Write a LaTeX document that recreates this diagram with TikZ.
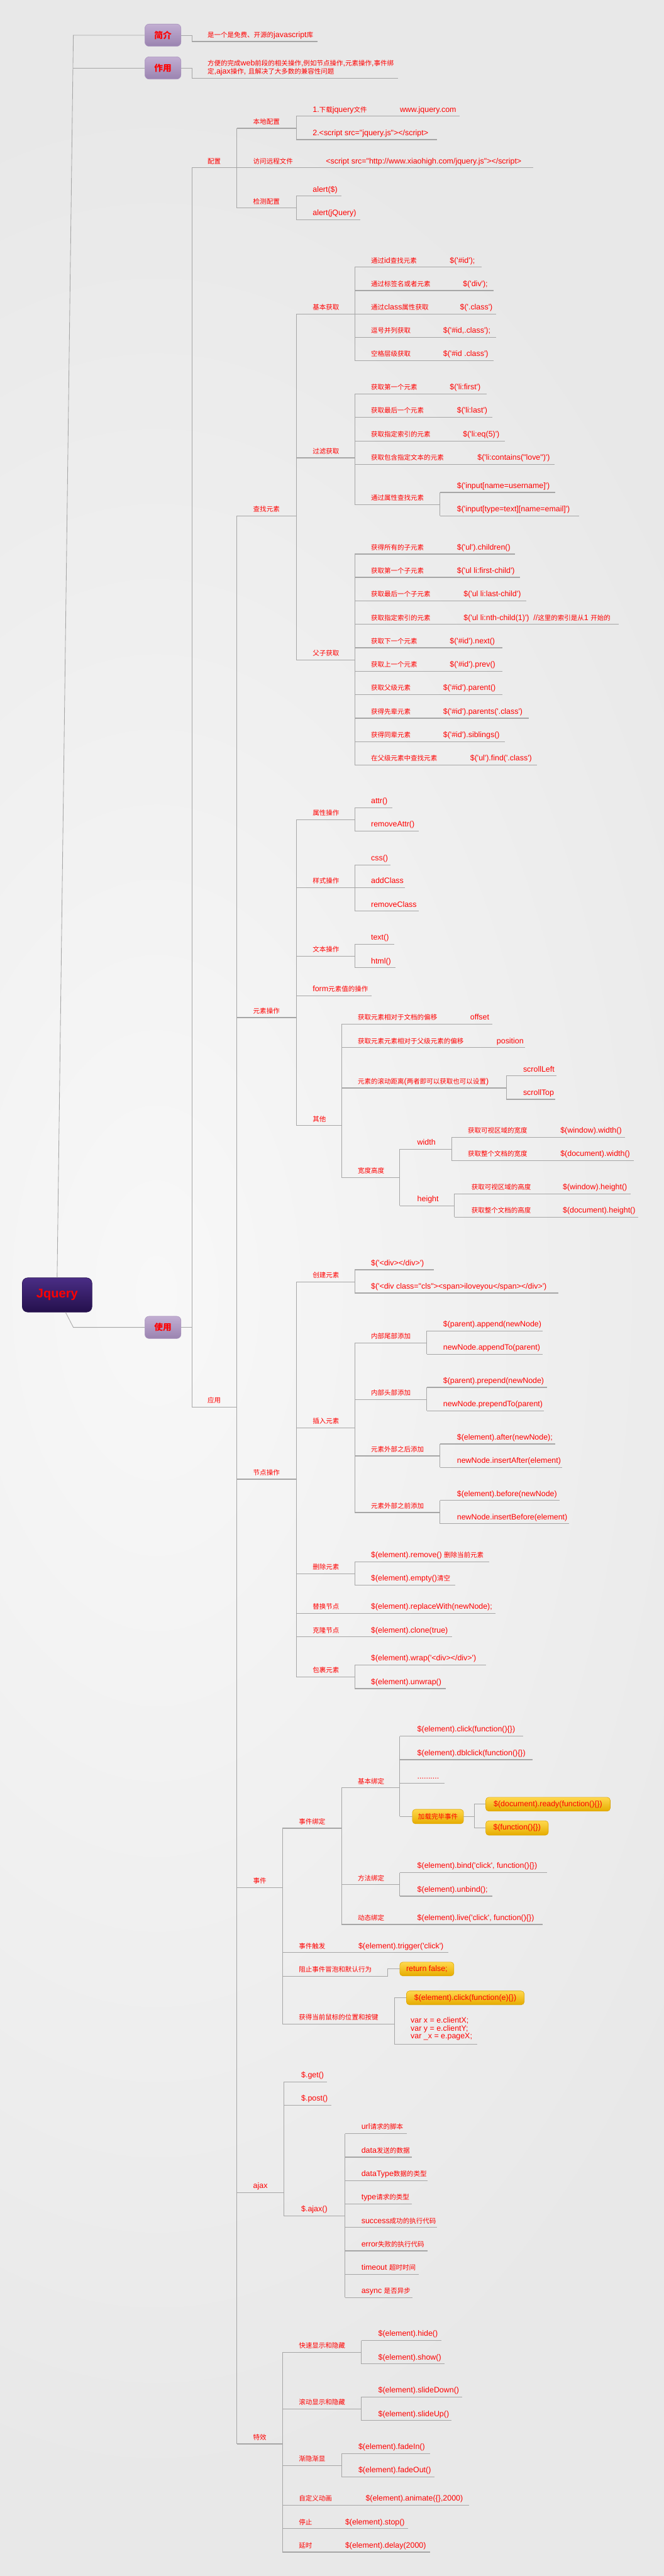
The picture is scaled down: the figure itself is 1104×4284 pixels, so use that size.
\documentclass[tikz,border=0pt]{standalone}
\usepackage{fontspec}
\setmainfont{Liberation Sans}[Ligatures=TeXOff]
\newfontfamily\cjk{Noto Sans CJK SC}[Scale=0.846]
\usetikzlibrary{calc}
% automatic switch to the CJK font for Chinese characters
\newXeTeXintercharclass\CJKcls
\newcount\cjkc
\cjkc="4E00
\loop\XeTeXcharclass\cjkc=\CJKcls\relax\ifnum\cjkc<"9FFF\relax\advance\cjkc by 1\relax\repeat
\cjkc="3000
\loop\XeTeXcharclass\cjkc=\CJKcls\relax\ifnum\cjkc<"303F\relax\advance\cjkc by 1\relax\repeat
\cjkc="FF00
\loop\XeTeXcharclass\cjkc=\CJKcls\relax\ifnum\cjkc<"FFEF\relax\advance\cjkc by 1\relax\repeat
\XeTeXinterchartoks 0 \CJKcls = {\begingroup\cjk}
\XeTeXinterchartoks 4095 \CJKcls = {\begingroup\cjk}
\XeTeXinterchartoks \CJKcls 0 = {\endgroup}
\XeTeXinterchartoks \CJKcls 4095 = {\endgroup}
\XeTeXinterchartokenstate=1
\definecolor{bgc}{HTML}{E8E8E8}
\definecolor{bgl}{HTML}{F8F8F8}
\definecolor{linec}{HTML}{A6A6A6}
\definecolor{tred}{HTML}{FF0000}
\definecolor{pbt}{HTML}{C2AED2}
\definecolor{pbb}{HTML}{9A83B0}
\definecolor{pbd}{HTML}{A893BC}
\definecolor{rbt}{HTML}{4A2D85}
\definecolor{rbb}{HTML}{24104C}
\definecolor{ybt}{HTML}{FFD84D}
\definecolor{ybb}{HTML}{E6AC00}
\definecolor{ybd}{HTML}{D9A200}
\newcommand\mn[6]{%
  \coordinate (#1-l) at (#2,#4);
  \coordinate (#1-r) at (#3,#4);
  \node[lbl] (#1) at (#5,#4-7) {#6};
  \draw[ul] (#1-l) -- (#1-r);
}
\begin{document}
\begin{tikzpicture}[x=1pt,y=-1pt,
  lbl/.style={anchor=base west, inner sep=0pt, text=tred, font=\fontsize{13}{15}\selectfont},
  ul/.style={draw=linec, line width=1.3pt},
  vl/.style={draw=linec, line width=0.9pt},
  pbox/.style={rounded corners=7pt, minimum width=60pt, minimum height=37pt, top color=pbt, bottom color=pbb, draw=pbd, line width=0.6pt, text=tred, font=\fontsize{17}{20}\selectfont\bfseries, inner sep=0pt},
  rbox/.style={rounded corners=9pt, minimum width=116pt, minimum height=57pt, top color=rbt, bottom color=rbb, draw=rbb, line width=0.6pt, text=tred, font=\fontsize{21}{24}\selectfont\bfseries, inner sep=0pt},
  ybox/.style={rounded corners=5pt, top color=ybt, bottom color=ybb, draw=ybd, line width=0.6pt, text=tred, font=\fontsize{13}{15}\selectfont, inner sep=0pt, minimum height=23pt}
]
\useasboundingbox (0,0) rectangle (1104,4284);
\fill[bgc] (0,0) rectangle (1104,4284);
\begin{scope}
\clip (0,0) rectangle (1104,4284);
\shade[inner color=bgl, outer color=bgc] (260,2150) ellipse [x radius=1100pt, y radius=2000pt];
\end{scope}

% ---------- root and main boxes ----------
\node[rbox] (root) at (95,2153.5) {Jquery};
\node[pbox] (jj) at (271,58.5) {简介};
\node[pbox] (zy) at (271,113) {作用};
\node[pbox] (sy) at (271,2207.5) {使用};
\coordinate (t1) at (122,58.5);
\coordinate (t2) at (121.5,113);
\coordinate (t3) at (122,2207.5);
\draw[vl] (root.north) -- (t1) -- (jj.west);
\draw[vl] (t2) -- (zy.west);
\draw[vl] ([xshift=14pt]root.south) -- (t3) -- (sy.west);

% ---------- 简介 / 作用 ----------
\mn{d1}{319}{528}{69}{345}{是一个是免费、开源的javascript库}
\draw[vl] (jj.east) -| (d1-l);
\coordinate (d2-l) at (319,130.3);
\coordinate (d2-r) at (662,130.3);
\node[lbl, anchor=west, align=left, font=\fontsize{13}{13.3}\selectfont] (d2) at (345,112.7) {方便的完成web前段的相关操作,例如节点操作,元素操作,事件绑\\定,ajax操作, 且解决了大多数的兼容性问题};
\draw[ul] (d2-l) -- (d2-r);
\draw[vl] (zy.east) -| (d2-l);

% ---------- 使用 ----------
\mn{pz}{319}{394}{279}{345}{配置}
\mn{yy}{319}{394}{2340}{345}{应用}
\draw[vl] (pz-l) -- (yy-l);
\draw[ul] (sy.east) -- (sy.east -| pz-l);

% 配置
\mn{bd}{394}{493}{213.3}{421}{本地配置}
\mn{yc}{394}{493}{279}{421}{访问远程文件}
\mn{jc}{394}{493}{346}{421}{检测配置}
\draw[vl] (bd-l) -- (jc-l);
\mn{bd1}{493}{638}{193.3}{520}{1.下载jquery文件}
\mn{bd1v}{638}{765}{193.3}{665}{www.jquery.com}
\mn{bd2}{493}{727}{232.3}{520}{2.<script src="jquery.js"></script>}
\draw[vl] (bd1-l) -- (bd2-l);
\mn{yc1}{493}{887}{279}{542}{<script src="http://www.xiaohigh.com/jquery.js"></script>}
\mn{jc1}{493}{568}{326}{520}{alert(\$)}
\mn{jc2}{493}{599}{365.3}{520}{alert(jQuery)}
\draw[vl] (jc1-l) -- (jc2-l);

% 应用
\mn{cz}{394}{493}{858}{421}{查找元素}
\mn{ys}{394}{493}{1692.3}{421}{元素操作}
\mn{jd}{394}{493}{2460}{421}{节点操作}
\mn{sj}{394}{470}{3139}{421}{事件}
\mn{aj}{394}{472}{3646.3}{421}{ajax}
\mn{tx}{394}{470}{4064.3}{421}{特效}
\draw[vl] (cz-l) -- (tx-l);

% 查找元素
\mn{jb}{493}{590}{522.3}{520}{基本获取}
\mn{gl}{493}{590}{761.3}{520}{过滤获取}
\mn{fz}{493}{590}{1097.3}{520}{父子获取}
\draw[vl] (jb-l) -- (fz-l);
\mn{jb1}{590}{721}{444.3}{617}{通过id查找元素}
\mn{jb1v}{721}{801}{444.3}{748}{\$('\#id');}
\mn{jb2}{590}{743}{483.3}{617}{通过标签名或者元素}
\mn{jb2v}{743}{821}{483.3}{770}{\$('div');}
\mn{jb3}{590}{738}{522.3}{617}{通过class属性获取}
\mn{jb3v}{738}{825}{522.3}{765}{\$('.class')}
\mn{jb4}{590}{710}{561.3}{617}{逗号并列获取}
\mn{jb4v}{710}{825}{561.3}{737}{\$('\#id,.class');}
\mn{jb5}{590}{710}{600}{617}{空格层级获取}
\mn{jb5v}{710}{821}{600}{737}{\$('\#id .class')}
\draw[vl] (jb1-l) -- (jb5-l);
\mn{gl1}{590}{721}{655.3}{617}{获取第一个元素}
\mn{gl1v}{721}{810}{655.3}{748}{\$('li:first')}
\mn{gl2}{590}{733}{694}{617}{获取最后一个元素}
\mn{gl2v}{733}{819}{694}{760}{\$('li:last')}
\mn{gl3}{590}{743}{733.3}{617}{获取指定索引的元素}
\mn{gl3v}{743}{840}{733.3}{770}{\$('li:eq(5)')}
\mn{gl4}{590}{767}{772}{617}{获取包含指定文本的元素}
\mn{gl4v}{767}{922}{772}{794}{\$('li:contains("love")')}
\mn{gl5}{590}{732}{839}{617}{通过属性查找元素}
\draw[vl] (gl1-l) -- (gl5-l);
\mn{gl51}{732}{924}{819}{760}{\$('input[name=username]')}
\mn{gl52}{732}{963}{858}{760}{\$('input[type=text][name=email]')}
\draw[vl] (gl51-l) -- (gl52-l);
\mn{fz1}{590}{733}{921.3}{617}{获得所有的子元素}
\mn{fz1v}{733}{857}{921.3}{760}{\$('ul').children()}
\mn{fz2}{590}{733}{960}{617}{获取第一个子元素}
\mn{fz2v}{733}{865}{960}{760}{\$('ul li:first-child')}
\mn{fz3}{590}{744}{999.3}{617}{获取最后一个子元素}
\mn{fz3v}{744}{875}{999.3}{771}{\$('ul li:last-child')}
\mn{fz4}{590}{744}{1038.3}{617}{获取指定索引的元素}
\mn{fz4v}{744}{1029}{1038.3}{771}{\$('ul li:nth-child(1)')\ \ //这里的索引是从1 开始的}
\mn{fz5}{590}{721}{1077.3}{617}{获取下一个元素}
\mn{fz5v}{721}{836}{1077.3}{748}{\$('\#id').next()}
\mn{fz6}{590}{721}{1116.3}{617}{获取上一个元素}
\mn{fz6v}{721}{836}{1116.3}{748}{\$('\#id').prev()}
\mn{fz7}{590}{710}{1155.3}{617}{获取父级元素}
\mn{fz7v}{710}{836}{1155.3}{737}{\$('\#id').parent()}
\mn{fz8}{590}{710}{1194.3}{617}{获得先辈元素}
\mn{fz8v}{710}{880}{1194.3}{737}{\$('\#id').parents('.class')}
\mn{fz9}{590}{710}{1233.3}{617}{获得同辈元素}
\mn{fz9v}{710}{840}{1233.3}{737}{\$('\#id').siblings()}
\mn{fz10}{590}{755}{1272.3}{617}{在父级元素中查找元素}
\mn{fz10v}{755}{893}{1272.3}{782}{\$('ul').find('.class')}
\draw[vl] (fz1-l) -- (fz10-l);

% 元素操作
\mn{sx}{493}{590}{1363.3}{520}{属性操作}
\mn{ysc}{493}{590}{1476}{520}{样式操作}
\mn{wb}{493}{590}{1590.3}{520}{文本操作}
\mn{fm}{493}{618}{1656.3}{520}{form元素值的操作}
\mn{qt}{493}{568}{1872}{520}{其他}
\draw[vl] (sx-l) -- (qt-l);
\mn{sx1}{590}{653}{1343.3}{617}{attr()}
\mn{sx2}{590}{697}{1382.3}{617}{removeAttr()}
\draw[vl] (sx1-l) -- (sx2-l);
\mn{ysc1}{590}{649}{1438.3}{617}{css()}
\mn{ysc2}{590}{674}{1476}{617}{addClass}
\mn{ysc3}{590}{697}{1515.3}{617}{removeClass}
\draw[vl] (ysc1-l) -- (ysc3-l);
\mn{wb1}{590}{656}{1570.3}{617}{text()}
\mn{wb2}{590}{658}{1609.3}{617}{html()}
\draw[vl] (wb1-l) -- (wb2-l);
\mn{qt1}{568}{755}{1703.3}{595}{获取元素相对于文档的偏移}
\mn{qt1v}{755}{819}{1703.3}{782}{offset}
\mn{qt2}{568}{799}{1742.3}{595}{获取元素元素相对于父级元素的偏移}
\mn{qt2v}{799}{873}{1742.3}{826}{position}
\mn{qt3}{568}{842}{1809.3}{595}{元素的滚动距离(两者即可以获取也可以设置)}
\mn{kg}{568}{665}{1958.3}{595}{宽度高度}
\draw[vl] (qt1-l) -- (kg-l);
\mn{qt31}{842}{926}{1789.3}{870}{scrollLeft}
\mn{qt32}{842}{924}{1828.3}{870}{scrollTop}
\draw[vl] (qt31-l) -- (qt32-l);
\mn{kw}{665}{751}{1911.3}{694}{width}
\mn{kh}{665}{756}{2005.3}{694}{height}
\draw[vl] (kw-l) -- (kh-l);
\mn{kw1}{751}{905}{1891.3}{778}{获取可视区域的宽度}
\mn{kw1v}{905}{1040}{1891.3}{932}{\$(window).width()}
\mn{kw2}{751}{905}{1930.3}{778}{获取整个文档的宽度}
\mn{kw2v}{905}{1054}{1930.3}{932}{\$(document).width()}
\draw[vl] (kw1-l) -- (kw2-l);
\mn{kh1}{756}{909}{1985.3}{784}{获取可视区域的高度}
\mn{kh1v}{909}{1049}{1985.3}{936}{\$(window).height()}
\mn{kh2}{756}{909}{2024.3}{784}{获取整个文档的高度}
\mn{kh2v}{909}{1062}{2024.3}{936}{\$(document).height()}
\draw[vl] (kh1-l) -- (kh2-l);

% 节点操作
\mn{cj}{493}{590}{2131.7}{520}{创建元素}
\mn{cr}{493}{590}{2374.3}{520}{插入元素}
\mn{sc}{493}{590}{2617.3}{520}{删除元素}
\mn{th}{493}{590}{2683.3}{520}{替换节点}
\mn{thv}{590}{824}{2683.3}{617}{\$(element).replaceWith(newNode);}
\mn{kl}{493}{590}{2722.3}{520}{克隆节点}
\mn{klv}{590}{752}{2722.3}{617}{\$(element).clone(true)}
\mn{bg}{493}{590}{2789}{520}{包裹元素}
\draw[vl] (cj-l) -- (bg-l);
\mn{cj1}{590}{722}{2111.7}{617}{\$('<div></div>')}
\mn{cj2}{590}{929}{2150.3}{617}{\$('<div class="cls"><span>iloveyou</span></div>')}
\draw[vl] (cj1-l) -- (cj2-l);
\mn{cr1}{590}{710}{2233.3}{617}{内部尾部添加}
\mn{cr2}{590}{710}{2327.3}{617}{内部头部添加}
\mn{cr3}{590}{732}{2421.3}{617}{元素外部之后添加}
\mn{cr4}{590}{732}{2515.3}{617}{元素外部之前添加}
\draw[vl] (cr1-l) -- (cr4-l);
\mn{cr11}{710}{903}{2213.3}{737}{\$(parent).append(newNode)}
\mn{cr12}{710}{903}{2252.3}{737}{newNode.appendTo(parent)}
\draw[vl] (cr11-l) -- (cr12-l);
\mn{cr21}{710}{910}{2307.3}{737}{\$(parent).prepend(newNode)}
\mn{cr22}{710}{905}{2346.3}{737}{newNode.prependTo(parent)}
\draw[vl] (cr21-l) -- (cr22-l);
\mn{cr31}{732}{924}{2401.3}{760}{\$(element).after(newNode);}
\mn{cr32}{732}{935}{2440.3}{760}{newNode.insertAfter(element)}
\draw[vl] (cr31-l) -- (cr32-l);
\mn{cr41}{732}{931}{2495.3}{760}{\$(element).before(newNode)}
\mn{cr42}{732}{947}{2534}{760}{newNode.insertBefore(element)}
\draw[vl] (cr41-l) -- (cr42-l);
\mn{sc1}{590}{814}{2597.3}{617}{\$(element).remove() 删除当前元素}
\mn{sc2}{590}{757}{2636.3}{617}{\$(element).empty()清空}
\draw[vl] (sc1-l) -- (sc2-l);
\mn{bg1}{590}{808}{2769}{617}{\$(element).wrap('<div></div>')}
\mn{bg2}{590}{742}{2808.3}{617}{\$(element).unwrap()}
\draw[vl] (bg1-l) -- (bg2-l);

% 事件
\mn{sb}{470}{568}{3040.3}{497}{事件绑定}
\mn{cf}{470}{569}{3247.3}{497}{事件触发}
\mn{cfv}{569}{746}{3247.3}{596}{\$(element).trigger('click')}
\mn{zz}{470}{645}{3286.3}{497}{阻止事件冒泡和默认行为}
\mn{hq}{470}{656}{3366.3}{497}{获得当前鼠标的位置和按键}
\draw[vl] (sb-l) -- (hq-l);
\mn{jbd}{568}{665}{2973.3}{595}{基本绑定}
\mn{ff}{568}{665}{3134.3}{595}{方法绑定}
\mn{dt}{568}{667}{3200.3}{595}{动态绑定}
\mn{dtv}{667}{903}{3200.3}{694}{\$(element).live('click', function()\{\})}
\draw[vl] (jbd-l) -- (dt-l);
\mn{jbd1}{665}{870}{2887.3}{694}{\$(element).click(function()\{\})}
\mn{jbd2}{665}{886}{2926.3}{694}{\$(element).dblclick(function()\{\})}
\mn{jbd3}{665}{739}{2965.3}{694}{..........}
\coordinate (jz-l) at (665,3021);
\node[ybox, minimum width=85pt, minimum height=24pt] (jz) at (728.5,3021) {加载完毕事件};
\draw[ul] (jz-l) -- (jz.west);
\draw[vl] (jbd1-l) -- (jz-l);
\node[ybox, minimum width=207pt] (jz1) at (911.5,3000.5) {\$(document).ready(function()\{\})};
\node[ybox, minimum width=104pt, minimum height=24pt] (jz2) at (860,3040) {\$(function()\{\})};
\coordinate (jz1-l) at (789,3000.5);
\coordinate (jz2-l) at (789,3040);
\draw[ul] (jz.east) -- (jz.east -| jz1-l);
\draw[vl] (jz1-l) -- (jz2-l);
\draw[ul] (jz1-l) -- (jz1.west);
\draw[ul] (jz2-l) -- (jz2.west);
\mn{ff1}{665}{910}{3114.3}{694}{\$(element).bind('click', function()\{\})}
\mn{ff2}{665}{819}{3153.3}{694}{\$(element).unbind();}
\draw[vl] (ff1-l) -- (ff2-l);
\node[ybox, minimum width=90pt] (rf) at (710,3274.5) {return false;};
\draw[ul] (zz-r) |- (rf.west);
\node[ybox, minimum width=196pt] (hq1) at (774,3322.5) {\$(element).click(function(e)\{\})};
\coordinate (hq1-l) at (656,3322.5);
\draw[ul] (hq1-l) -- (hq1.west);
\coordinate (hq2-l) at (656,3399.3);
\coordinate (hq2-r) at (794,3399.3);
\node[lbl, anchor=west, align=left, font=\fontsize{13}{13}\selectfont] (hq2) at (683,3374) {var x = e.clientX;\\var y = e.clientY;\\var \_x = e.pageX;};
\draw[ul] (hq2-l) -- (hq2-r);
\draw[vl] (hq1-l) -- (hq2-l);

% ajax
\mn{ag}{472}{544}{3462.3}{501}{\$.get()}
\mn{ap}{472}{551}{3501.3}{501}{\$.post()}
\mn{aa}{472}{574}{3685.3}{501}{\$.ajax()}
\draw[vl] (ag-l) -- (aa-l);
\mn{aa1}{574}{677}{3548.3}{601}{url请求的脚本}
\mn{aa2}{574}{685}{3587.3}{601}{data发送的数据}
\mn{aa3}{574}{711}{3626.3}{601}{dataType数据的类型}
\mn{aa4}{574}{685}{3665.3}{601}{type请求的类型}
\mn{aa5}{574}{727}{3704.3}{601}{success成功的执行代码}
\mn{aa6}{574}{711}{3743.3}{601}{error失败的执行代码}
\mn{aa7}{574}{697}{3782.3}{601}{timeout 超时时间}
\mn{aa8}{574}{686}{3821}{601}{async 是否异步}
\draw[vl] (aa1-l) -- (aa8-l);

% 特效
\mn{ks}{470}{601}{3912.3}{497}{快速显示和隐藏}
\mn{gd}{470}{601}{4006.3}{497}{滚动显示和隐藏}
\mn{jy}{470}{568}{4100.3}{497}{渐隐渐显}
\mn{zd}{470}{581}{4166.3}{497}{自定义动画}
\mn{zdv}{581}{780}{4166.3}{608}{\$(element).animate(\{\},2000)}
\mn{tz}{470}{547}{4205.3}{497}{停止}
\mn{tzv}{547}{679}{4205.3}{574}{\$(element).stop()}
\mn{ysh}{470}{547}{4244.3}{497}{延时}
\mn{yshv}{547}{715}{4244.3}{574}{\$(element).delay(2000)}
\draw[vl] (ks-l) -- (ysh-l);
\mn{ks1}{601}{734}{3892.3}{629}{\$(element).hide()}
\mn{ks2}{601}{739}{3931.3}{629}{\$(element).show()}
\draw[vl] (ks1-l) -- (ks2-l);
\mn{gd1}{601}{769}{3986}{629}{\$(element).slideDown()}
\mn{gd2}{601}{751}{4025.3}{629}{\$(element).slideUp()}
\draw[vl] (gd1-l) -- (gd2-l);
\mn{jy1}{568}{715}{4080.3}{596}{\$(element).fadeIn()}
\mn{jy2}{568}{723}{4119.3}{596}{\$(element).fadeOut()}
\draw[vl] (jy1-l) -- (jy2-l);
\end{tikzpicture}
\end{document}
